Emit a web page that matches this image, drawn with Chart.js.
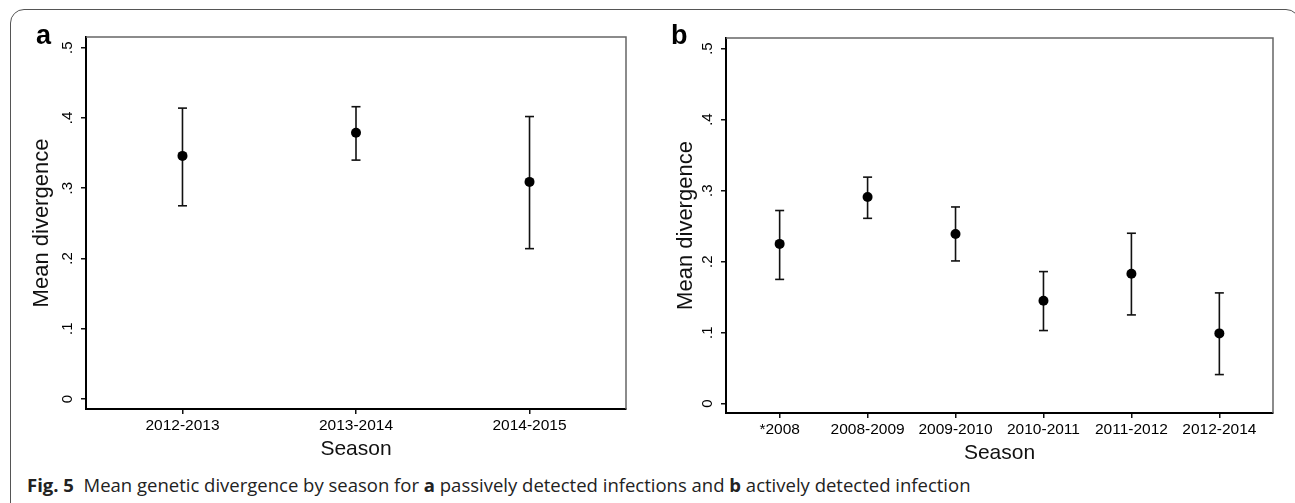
<!DOCTYPE html>
<html>
<head>
<meta charset="utf-8">
<script src="https://cdn.jsdelivr.net/npm/chart.js@4"></script>
<style>
  html, body { margin: 0; padding: 0; background: #fff; overflow: hidden; }
  body { width: 1295px; height: 503px; position: relative; }
  .frame { position: absolute; left: 10px; top: 9px; width: 1290px; height: 520px;
           border: 1.5px solid #555; border-radius: 14px; box-sizing: border-box; }
  canvas { position: absolute; top: 0; }
  .panel { position: absolute; top: 22px; font: bold 27px "Liberation Sans", Arial, sans-serif;
           line-height: 1; color: #000; }
  .caption { position: absolute; left: 27px; top: 476px; font: 18.5px "Open Sans", sans-serif;
             line-height: 1; color: #222; white-space: nowrap; }
</style>
</head>
<body>
<div class="frame"></div>
<canvas id="chartA" width="640" height="470" style="left:0"></canvas>
<canvas id="chartB" width="655" height="470" style="left:640px"></canvas>
<div class="panel" style="left:36px">a</div>
<div class="panel" style="left:671px">b</div>
<div class="caption"><b>Fig. 5</b>&nbsp; Mean genetic divergence by season for <b>a</b> passively detected infections and <b>b</b> actively detected infection</div>

<script>
// Panel a: passively detected infections
const seasonsA = ['2012-2013', '2013-2014', '2014-2015'];
const meanA = [0.346, 0.379, 0.309];
const lowA = [0.275, 0.340, 0.214];
const highA = [0.414, 0.416, 0.402];

// Panel b: actively detected infections
const seasonsB = ['*2008', '2008-2009', '2009-2010', '2010-2011', '2011-2012', '2012-2014'];
const meanB = [0.225, 0.291, 0.239, 0.145, 0.183, 0.099];
const lowB = [0.175, 0.261, 0.201, 0.103, 0.125, 0.041];
const highB = [0.272, 0.319, 0.277, 0.186, 0.240, 0.156];

// Y axis ticks (Stata style labels)
const yTicks = [0, 0.1, 0.2, 0.3, 0.4, 0.5];
const yTickLabels = ['0', '.1', '.2', '.3', '.4', '.5'];

const textColor = '#000';
const font = "'Liberation Sans', Arial, sans-serif";

// draws the grey top and right sides of the plot region
const plotBox = {
    id: 'plotBox',
    afterDraw(chart) {
        const { ctx, chartArea: a } = chart;
        ctx.save();
        ctx.strokeStyle = '#666';
        ctx.lineWidth = 1.5;
        ctx.beginPath();
        ctx.moveTo(a.left, a.top);
        ctx.lineTo(a.right, a.top);
        ctx.lineTo(a.right, a.bottom);
        ctx.stroke();
        ctx.restore();
    }
};

function makeChart(canvasId, seasons, mean, low, high, cfg) {
    const bars = [];
    seasons.forEach((s, i) => {
        bars.push({ x: i, y: low[i] }, { x: i, y: high[i] }, { x: i, y: null });
    });
    const caps = [];
    seasons.forEach((s, i) => {
        caps.push({ x: i, y: low[i] }, { x: i, y: high[i] });
    });
    const points = seasons.map((s, i) => ({ x: i, y: mean[i] }));

    return new Chart(document.getElementById(canvasId), {
        type: 'scatter',
        data: {
            datasets: [
                { data: points, pointRadius: 5, backgroundColor: '#000', borderWidth: 0, order: 0 },
                { data: caps, pointStyle: 'line', pointRadius: 4.5, borderColor: '#111', borderWidth: 1.6, order: 1 },
                { data: bars, showLine: true, spanGaps: false, pointRadius: 0, borderColor: '#111', borderWidth: 1.6, order: 2 }
            ]
        },
        options: {
            responsive: false,
            animation: false,
            events: [],
            layout: { padding: cfg.padding },
            plugins: { legend: { display: false }, tooltip: { enabled: false } },
            scales: {
                x: {
                    type: 'linear',
                    min: cfg.xMin,
                    max: cfg.xMax,
                    afterBuildTicks: s => { s.ticks = seasons.map((_, i) => ({ value: i })); },
                    afterFit: s => { s.height = cfg.xHeight; },
                    ticks: {
                        callback: (v, i) => seasons[i],
                        autoSkip: false, maxRotation: 0, padding: 2,
                        color: textColor, font: { family: font, size: 15.5 }
                    },
                    grid: { drawOnChartArea: false, drawTicks: true, tickLength: 5, color: '#111', lineWidth: 1.5 },
                    border: { color: '#000', width: 2 },
                    title: { display: true, text: 'Season', color: '#111', padding: 0, font: { family: font, size: 21 } }
                },
                y: {
                    min: cfg.yMin,
                    max: cfg.yMax,
                    afterBuildTicks: s => { s.ticks = yTicks.map(v => ({ value: v })); },
                    afterFit: s => { s.width = cfg.yWidth; },
                    ticks: {
                        callback: (v, i) => yTickLabels[i],
                        minRotation: 90, maxRotation: 90, crossAlign: 'center', padding: 7,
                        color: textColor, font: { family: font, size: 15 }
                    },
                    grid: { drawOnChartArea: false, drawTicks: true, tickLength: 5, color: '#111', lineWidth: 1.5 },
                    border: { color: '#000', width: 2 },
                    title: { display: true, text: 'Mean divergence', color: '#111', padding: 0, font: { family: font, size: 22 } }
                }
            }
        },
        plugins: [plotBox]
    });
}

makeChart('chartA', seasonsA, meanA, lowA, highA, {
    padding: { top: 37, right: 14, bottom: 8, left: 29 },
    xMin: -0.556, xMax: 2.556, xHeight: 53,
    yMin: -0.0142, yMax: 0.5152, yWidth: 57
});

makeChart('chartB', seasonsB, meanB, lowB, highB, {
    padding: { top: 38, right: 22, bottom: 4, left: 33 },
    xMin: -0.61, xMax: 5.61, xHeight: 53,
    yMin: -0.0131, yMax: 0.5149, yWidth: 53
});
</script>
</body>
</html>
